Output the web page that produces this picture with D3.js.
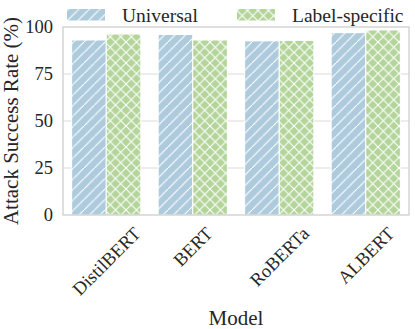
<!DOCTYPE html>
<html>
<head>
<meta charset="utf-8">
<script src="https://cdn.jsdelivr.net/npm/d3@7"></script>
<style>
  html, body { margin: 0; padding: 0; background: #fff; }
  svg { display: block; font-family: "Liberation Serif", "DejaVu Serif", serif; }
</style>
</head>
<body>
<svg id="chart" width="415" height="329"></svg>
<script>
// data
var models = ["DistilBERT", "BERT", "RoBERTa", "ALBERT"];
var seriesNames = ["Universal", "Label-specific"];
var universal = [93.1, 96.0, 92.6, 97.0];
var labelSpecific = [96.3, 93.1, 92.9, 98.4];
var yTicks = [0, 25, 50, 75, 100];

var colors = { "Universal": "#aecbdd", "Label-specific": "#b3d59a" };
var patternIds = { "Universal": "hatch-slash", "Label-specific": "hatch-cross" };

var svg = d3.select("#chart");
var plotLeft = 63, plotRight = 409, plotTop = 27, plotBottom = 215;

var x = d3.scaleBand().domain(models).range([plotLeft, plotRight]).paddingInner(0.2).paddingOuter(0.1);
var xs = d3.scaleBand().domain(seriesNames).range([0, x.bandwidth()]);
var y = d3.scaleLinear().domain([0, 100]).range([plotBottom, plotTop]);

// hatch patterns
var defs = svg.append("defs");
function makePattern(id, color, cross) {
  var s = 10.5;
  var p = defs.append("pattern").attr("id", id)
    .attr("patternUnits", "userSpaceOnUse").attr("width", s).attr("height", s);
  p.append("rect").attr("width", s).attr("height", s).attr("fill", color);
  var d = "M-1," + (s + 1) + "L" + (s + 1) + ",-1";
  if (cross) d += "M-1,-1L" + (s + 1) + "," + (s + 1);
  p.append("path").attr("d", d).attr("stroke", "#fff").attr("stroke-width", 1.1).attr("fill", "none");
}
makePattern("hatch-slash", colors["Universal"], false);
makePattern("hatch-cross", colors["Label-specific"], true);

// gridlines
svg.append("g").selectAll("line").data(yTicks.slice(1, -1)).enter().append("line")
  .attr("x1", plotLeft).attr("x2", plotRight)
  .attr("y1", function(d) { return y(d); }).attr("y2", function(d) { return y(d); })
  .attr("stroke", "#dcdcdc").attr("stroke-width", 1.2);

// bars
var rows = [];
models.forEach(function(m, i) {
  rows.push({ model: m, series: "Universal", value: universal[i] });
  rows.push({ model: m, series: "Label-specific", value: labelSpecific[i] });
});
svg.append("g").selectAll("rect").data(rows).enter().append("rect")
  .attr("x", function(d) { return x(d.model) + xs(d.series); })
  .attr("width", xs.bandwidth())
  .attr("y", function(d) { return y(d.value); })
  .attr("height", function(d) { return y(0) - y(d.value); })
  .attr("fill", function(d) { return "url(#" + patternIds[d.series] + ")"; })
  .attr("stroke", "#fff").attr("stroke-width", 1);

// frame
svg.append("rect").attr("x", plotLeft).attr("y", plotTop)
  .attr("width", plotRight - plotLeft).attr("height", plotBottom - plotTop)
  .attr("fill", "none").attr("stroke", "#cccccc").attr("stroke-width", 1.25);

// y tick labels
svg.append("g").selectAll("text").data(yTicks).enter().append("text")
  .attr("x", 53).attr("y", function(d) { return y(d); })
  .attr("dy", "0.35em").attr("text-anchor", "end")
  .attr("font-size", 18.5).attr("fill", "#262626")
  .text(function(d) { return d; });

// x tick labels, rotated 45 and centred on the group
var fs = 18.5;
var xl = svg.append("g").selectAll("text").data(models).enter().append("text")
  .attr("text-anchor", "middle").attr("dy", "0.35em")
  .attr("font-size", fs).attr("fill", "#262626")
  .text(function(d) { return d; });
xl.attr("transform", function(d) {
  var L = this.getComputedTextLength();
  var H = (L + fs * 0.95) * Math.SQRT1_2;
  var cx = x(d) + x.bandwidth() / 2;
  return "translate(" + cx + "," + (224 + H / 2) + ") rotate(-45)";
});

// axis titles
svg.append("text").attr("x", (plotLeft + plotRight) / 2).attr("y", 325)
  .attr("text-anchor", "middle").attr("font-size", 21).attr("fill", "#262626")
  .text("Model");
svg.append("text").attr("transform", "translate(18,121) rotate(-90)")
  .attr("text-anchor", "middle").attr("font-size", 21).attr("fill", "#262626")
  .text("Attack Success Rate (%)");

// legend
var legendX = [67, 237];
var lg = svg.append("g").selectAll("g").data(seriesNames).enter().append("g")
  .attr("transform", function(d, i) { return "translate(" + legendX[i] + ",0)"; });
lg.append("rect").attr("x", 0).attr("y", 9).attr("width", 38).attr("height", 11.5)
  .attr("fill", function(d) { return "url(#" + patternIds[d] + ")"; });
lg.append("text").attr("x", 55).attr("y", 21.5)
  .attr("font-size", 19.5).attr("fill", "#262626")
  .text(function(d) { return d; });
</script>
</body>
</html>
